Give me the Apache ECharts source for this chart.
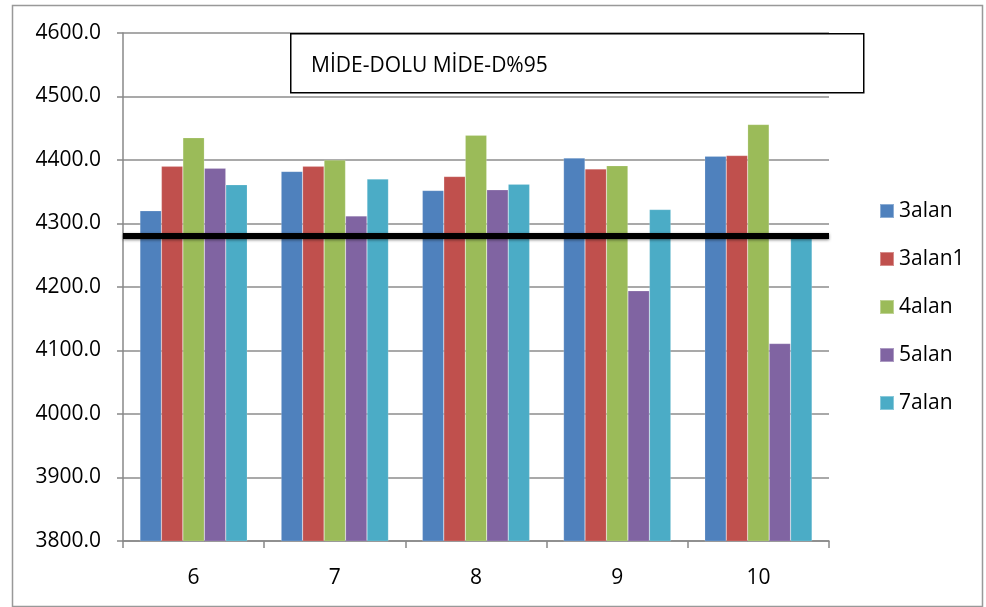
<!DOCTYPE html>
<html><head><meta charset="utf-8">
<script src="https://cdn.jsdelivr.net/npm/echarts@6/dist/echarts.min.js"></script>
<style>html,body{margin:0;padding:0;background:#fff}#c{width:986px;height:607px}</style>
</head><body><div id="c"></div>
<script>
const categories = ['6', '7', '8', '9', '10'];
const seriesNames = ['3alan', '3alan1', '4alan', '5alan', '7alan'];
const s3alan  = [4320, 4382, 4352, 4403, 4406];
const s3alan1 = [4390, 4390, 4374, 4386, 4407];
const s4alan  = [4435, 4400, 4439, 4391, 4456];
const s5alan  = [4387, 4312, 4353, 4194, 4111];
const s7alan  = [4361, 4370, 4362, 4322, 4278];
const refLine = 4280;
const yTicks = { min: 3800, max: 4600, interval: 100 };
const titleText = 'MİDE-DOLU MİDE-D%95';

const colors = ['#4F81BD', '#C0504D', '#9BBB59', '#8064A2', '#4BACC6'];
const allData = [s3alan, s3alan1, s4alan, s5alan, s7alan];
const FONT = 'Open Sans';

const series = seriesNames.map((n, i) => ({
  name: n, type: 'bar', data: allData[i], barGap: 0, barCategoryGap: '24%',
  itemStyle: { color: colors[i], borderColor: 'rgba(255,255,255,0.35)', borderWidth: 0.5 },
  z: 2
}));
series[0].markLine = {
  silent: true, symbol: ['none', 'none'], label: { show: false },
  lineStyle: { color: '#000', width: 6, type: 'solid', shadowColor: 'rgba(0,0,0,0.5)', shadowBlur: 3, shadowOffsetY: 1 },
  data: [{ yAxis: refLine }], z: 10
};

const chart = echarts.init(document.getElementById('c'), null, { renderer: 'canvas' });
chart.setOption({
  animation: false,
  color: colors,
  grid: { left: 123, top: 33, right: 157, bottom: 66 },
  legend: {
    orient: 'vertical', left: 874, top: 195, itemWidth: 14, itemHeight: 14, itemGap: 26,
    icon: 'rect', textStyle: { fontFamily: FONT, fontSize: 21, lineHeight: 22, color: '#000' },
    data: seriesNames
  },
  xAxis: {
    type: 'category', data: categories,
    axisLine: { lineStyle: { color: '#888', width: 1.5 } },
    axisTick: { show: true, length: 7, lineStyle: { color: '#888', width: 1.5 } },
    axisLabel: { fontFamily: FONT, fontSize: 21, color: '#000', margin: 27 }
  },
  yAxis: {
    type: 'value', min: yTicks.min, max: yTicks.max, interval: yTicks.interval,
    axisLine: { show: true, lineStyle: { color: '#888', width: 1.5 } },
    axisTick: { show: true, length: 6, lineStyle: { color: '#888', width: 1.5 } },
    splitLine: { lineStyle: { color: '#8c8c8c', width: 1.5 } },
    axisLabel: { fontFamily: FONT, fontSize: 21, color: '#000', margin: 22, formatter: v => v.toFixed(1) }
  },
  graphic: [
    { type: 'rect', left: 10, top: 3, shape: { width: 970, height: 601 }, style: { fill: 'none', stroke: '#999', lineWidth: 1.5 }, z: -1 },
    { type: 'rect', left: 290, top: 33, shape: { width: 573, height: 59 }, style: { fill: '#fff', stroke: '#000', lineWidth: 1.5 }, z: 100 },
    { type: 'text', left: 311, top: 56, style: { text: titleText, fontFamily: FONT, fontSize: 21, fill: '#000' }, z: 101 }
  ],
  series: series
});
</script></body></html>
